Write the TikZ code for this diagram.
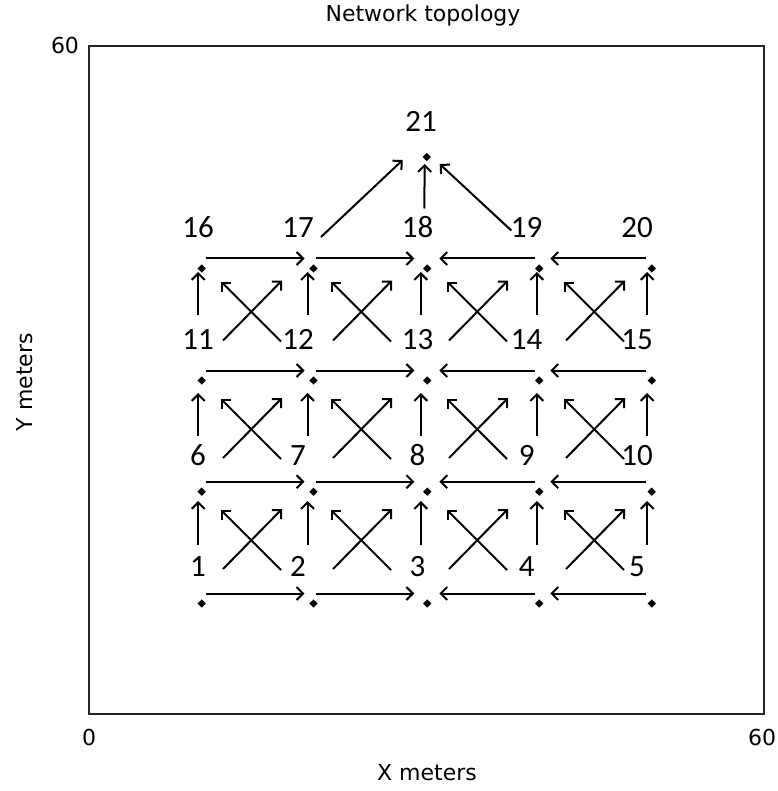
\documentclass[tikz,border=0pt]{standalone}
\usepackage{fontspec}
\newfontfamily\lblfont{Carlito}
\newfontfamily\axfont{DejaVu Sans}
\usetikzlibrary{arrows.meta,calc,shapes.geometric}
\tikzset{
  dot/.style={diamond,fill=black,inner sep=0pt,minimum size=8.5pt},
  lbl/.style={font=\lblfont\fontsize{31}{31}\selectfont,anchor=base,inner sep=0pt},
  axlbl/.style={font=\axfont\fontsize{22}{22}\selectfont,inner sep=0pt},
  arr/.style={line width=2pt,-{Straight Barb[length=6.5pt,width=13pt,line width=2pt]}},
  frame/.style={line width=2pt,draw=black!85}
}
\begin{document}
\begin{tikzpicture}[x=1pt,y=-1pt]
\useasboundingbox (0,0) rectangle (777,791);
\fill[white] (0,0) rectangle (777,791);
% frame
\draw[frame] (89,46) rectangle (764,714);
\node[axlbl,anchor=base] (title) at (423,21.7) {Network topology};
\node[axlbl,anchor=base] (y60) at (65,54) {60};
\node[axlbl,anchor=base] (x0) at (89,745) {0};
\node[axlbl,anchor=base] (x60) at (762,745) {60};
\node[axlbl] (xlab) at (427,773) {X meters};
\node[axlbl,rotate=90] (ylab) at (25,382) {Y meters};
% nodes
\foreach \r/\yy in {0/603.5,5/491.7,10/380.5,15/268.5}{
  \foreach \c/\xx in {1/201.7,2/313.5,3/427.3,4/539.3,5/651.7}{
    \pgfmathtruncatemacro\idx{\r+\c}
    \node[dot] (n\idx) at (\xx,\yy) {};
  }
}
\node[dot] (n21) at (426.7,157) {};
% labels
\foreach \r/\yy in {0/576.5,5/465.5,10/349.5,15/237.5}{
  \foreach \c/\xx in {1/198,2/298,3/417.5,4/526.7,5/637}{
    \pgfmathtruncatemacro\idx{\r+\c}
    \node[lbl] (l\idx) at (\xx,\yy) {\idx};
  }
}
\node[lbl] (l21) at (421,132) {21};
% horizontal arrows
\foreach \r in {0,5,10,15}{
  \pgfmathtruncatemacro\ia{\r+1}
  \pgfmathtruncatemacro\ib{\r+2}
  \pgfmathtruncatemacro\ic{\r+3}
  \pgfmathtruncatemacro\id{\r+4}
  \pgfmathtruncatemacro\ie{\r+5}
  \draw[arr] ($(n\ia)+(4,-10)$) -- ($(n\ib)+(-9,-10)$);
  \draw[arr] ($(n\ib)+(2,-10)$) -- ($(n\ic)+(-13,-10)$);
  \draw[arr] ($(n\id)+(-4,-10)$) -- ($(n\ic)+(12,-10)$);
  \draw[arr] ($(n\ie)+(-6,-10)$) -- ($(n\id)+(11,-10)$);
}
% vertical arrows
\foreach \p/\s/\t in {0/-58.5/9.3,5/-55.7/12.5,10/-65.5/3.5}{
  \foreach \c/\o in {1/-3.5,2/-6,3/-6.5,4/-2.5,5/-4.5}{
    \pgfmathtruncatemacro\vlo{\p+\c}
    \pgfmathtruncatemacro\vhi{\p+\c+5}
    \draw[arr] ($(n\vlo)+(\o,\s)$) -- ($(n\vhi)+(\o,\t)$);
  }
}
% diagonal crosses
\foreach \p/\dy in {0/-64.5,5/-63.7,10/-70}{
  \foreach \c/\dx in {1/50.3,2/48.5,3/50.7,4/55.7}{
    \pgfmathtruncatemacro\dl{\p+\c}
    \coordinate (k\dl) at ($(n\dl)+(\dx,\dy)$);
    \draw[arr] ($(k\dl)+(-29,30)$) -- ($(k\dl)+(30,-30)$);
    \draw[arr] ($(k\dl)+(29,31)$) -- ($(k\dl)+(-31,-29)$);
  }
}
% arrows to 21
\draw[arr] ($(n18)+(-3,-60)$) -- ($(n21)+(-2,7)$);
\draw[arr] ($(n17)+(7.5,-31.5)$) -- ($(n21)+(-24,3)$);
\draw[arr] ($(n19)+(-28,-38)$) -- ($(n21)+(13,7)$);
\end{tikzpicture}
\end{document}
